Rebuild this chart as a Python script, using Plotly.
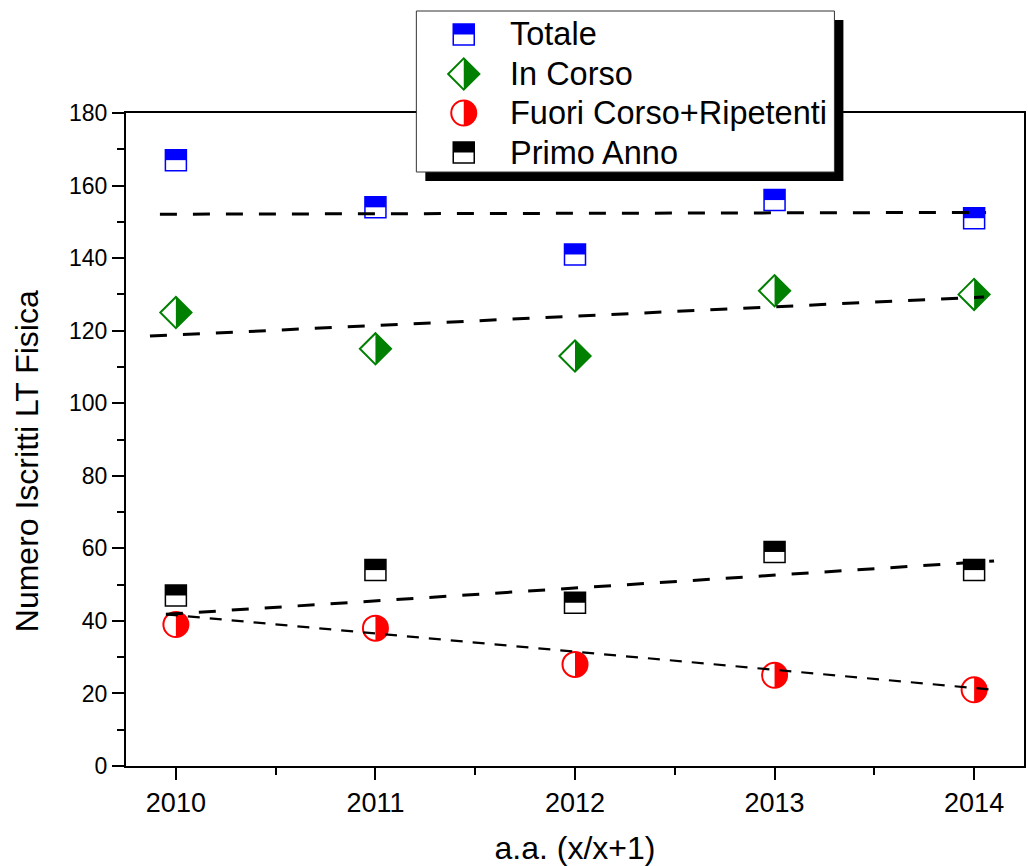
import plotly.graph_objects as go

# ---------------- data ----------------
years = [2010, 2011, 2012, 2013, 2014]
totale = [167, 154, 141, 156, 151]
in_corso = [125, 115, 113, 131, 130]
fuori_corso = [39, 38, 28, 25, 21]
primo_anno = [47, 54, 45, 59, 54]

# linear-fit lines (end points)
fit_totale_x = [2009.92, 2014.06]
fit_totale_y = [152.1, 152.6]
fit_incorso_x = [2009.87, 2014.05]
fit_incorso_y = [118.5, 129.3]
fit_primo_x = [2009.95, 2014.10]
fit_primo_y = [41.8, 56.5]
fit_fuori_x = [2009.95, 2014.12]
fit_fuori_y = [41.8, 20.9]

series_names = ["Totale", "In Corso", "Fuori Corso+Ripetenti", "Primo Anno"]
x_ticks = [2010, 2011, 2012, 2013, 2014]
y_ticks = [0, 20, 40, 60, 80, 100, 120, 140, 160, 180]
x_title = "a.a. (x/x+1)"
y_title = "Numero Iscritti LT Fisica"

# ---------------- styling ----------------
W, H = 1028, 866
ML, MR, MT, MB = 126, 2, 113, 100
PW, PH = W - ML - MR, H - MT - MB
FONT = "Liberation Sans, Arial, sans-serif"
NARROW = "Liberation Sans Narrow, Arial Narrow, " + FONT
BLUE, GREEN, RED, BLACK = "#0000FF", "#008000", "#FF0000", "#000000"

SQ = 10.5      # half side of square markers (px)
DI = 15.6      # half diagonal of diamond markers (px)
CR = 12.5      # circle radius (px)
K = 0.5523


def half_circle_path(r):
    return (f"M0,{-r} C{K*r},{-r} {r},{-K*r} {r},0 "
            f"C{r},{K*r} {K*r},{r} 0,{r} Z")


def half_diamond_path(d):
    return f"M0,{-d} L{d},0 L0,{d} Z"


fig = go.Figure()

# outline markers (transparent fill, background shows white half)
fig.add_trace(go.Scatter(x=years, y=totale, mode="markers", name=series_names[0],
                         marker=dict(symbol="square", size=2 * SQ, color="rgba(0,0,0,0)",
                                     line=dict(color=BLUE, width=1.5)), showlegend=False))
fig.add_trace(go.Scatter(x=years, y=in_corso, mode="markers", name=series_names[1],
                         marker=dict(symbol="diamond", size=2 * DI / 1.3, color="rgba(0,0,0,0)",
                                     line=dict(color=GREEN, width=2)), showlegend=False))
fig.add_trace(go.Scatter(x=years, y=fuori_corso, mode="markers", name=series_names[2],
                         marker=dict(symbol="circle", size=2 * CR, color="rgba(0,0,0,0)",
                                     line=dict(color=RED, width=2)), showlegend=False))
fig.add_trace(go.Scatter(x=years, y=primo_anno, mode="markers", name=series_names[3],
                         marker=dict(symbol="square", size=2 * SQ, color="rgba(0,0,0,0)",
                                     line=dict(color=BLACK, width=1.5)), showlegend=False))

# fit lines on top
for fx, fy, w, d in [(fit_totale_x, fit_totale_y, 3, "17px,16px"),
                     (fit_incorso_x, fit_incorso_y, 3, "17px,16px"),
                     (fit_primo_x, fit_primo_y, 3, "17px,16px"),
                     (fit_fuori_x, fit_fuori_y, 2.2, "12px,10px")]:
    fig.add_trace(go.Scatter(x=fx, y=fy, mode="lines", showlegend=False,
                             line=dict(color=BLACK, width=w, dash=d), hoverinfo="skip"))

shapes = []

# half fills of data markers, anchored on the data values
for xv, yv in zip(years, totale):
    shapes.append(dict(type="rect", xref="x", yref="y", xsizemode="pixel", ysizemode="pixel",
                       xanchor=xv, yanchor=yv, x0=-SQ, x1=SQ, y0=0, y1=SQ,
                       fillcolor=BLUE, line=dict(width=0), layer="below"))
for xv, yv in zip(years, in_corso):
    shapes.append(dict(type="path", xref="x", yref="y", xsizemode="pixel", ysizemode="pixel",
                       xanchor=xv, yanchor=yv, path=half_diamond_path(DI),
                       fillcolor=GREEN, line=dict(width=0), layer="below"))
for xv, yv in zip(years, fuori_corso):
    shapes.append(dict(type="path", xref="x", yref="y", xsizemode="pixel", ysizemode="pixel",
                       xanchor=xv, yanchor=yv, path=half_circle_path(CR),
                       fillcolor=RED, line=dict(width=0), layer="below"))
for xv, yv in zip(years, primo_anno):
    shapes.append(dict(type="rect", xref="x", yref="y", xsizemode="pixel", ysizemode="pixel",
                       xanchor=xv, yanchor=yv, x0=-SQ, x1=SQ, y0=0, y1=SQ,
                       fillcolor=BLACK, line=dict(width=0), layer="below"))


# ---------------- hand-made legend ----------------
def px(xp):
    return (xp - ML) / PW


def py(yp):
    return (MT + PH - yp) / PH


box_l, box_r, box_t, box_b = 417, 836, 11, 172
shadow = 9
shapes.append(dict(type="rect", xref="paper", yref="paper",
                   x0=px(box_l + shadow), x1=px(box_r + shadow),
                   y0=py(box_b + shadow), y1=py(box_t + shadow),
                   fillcolor=BLACK, line=dict(width=0), layer="above"))
shapes.append(dict(type="rect", xref="paper", yref="paper",
                   x0=px(box_l), x1=px(box_r), y0=py(box_b), y1=py(box_t),
                   fillcolor="white", line=dict(color="#333333", width=1), layer="above"))

sym_x = 464.5
row_y = [34.5, 74, 113, 152.5]
text_x = 509
annotations = []
for i, name in enumerate(series_names):
    ax, ay = px(sym_x), py(row_y[i])
    base = dict(xref="paper", yref="paper", xsizemode="pixel", ysizemode="pixel",
                xanchor=ax, yanchor=ay, layer="above")
    if i in (0, 3):
        col = BLUE if i == 0 else BLACK
        shapes.append(dict(type="rect", x0=-SQ, x1=SQ, y0=-SQ, y1=SQ, fillcolor="white",
                           line=dict(color=col, width=1.5), **base))
        shapes.append(dict(type="rect", x0=-SQ, x1=SQ, y0=0, y1=SQ, fillcolor=col,
                           line=dict(width=0), **base))
    elif i == 1:
        shapes.append(dict(type="path", path=f"M{DI},0 L0,{DI} L{-DI},0 L0,{-DI} Z",
                           fillcolor="white", line=dict(color=GREEN, width=2), **base))
        shapes.append(dict(type="path", path=half_diamond_path(DI), fillcolor=GREEN,
                           line=dict(width=0), **base))
    else:
        shapes.append(dict(type="circle", x0=-CR, x1=CR, y0=-CR, y1=CR, fillcolor="white",
                           line=dict(color=RED, width=2), **base))
        shapes.append(dict(type="path", path=half_circle_path(CR), fillcolor=RED,
                           line=dict(width=0), **base))
    annotations.append(dict(xref="paper", yref="paper", x=px(text_x), y=py(row_y[i]),
                            xanchor="left", yanchor="middle", showarrow=False, text=name,
                            font=dict(family=FONT, size=32.5, color=BLACK)))

# y-axis title as a rotated annotation (placed slightly below the plot centre, as in the original)
annotations.append(dict(xref="paper", yref="paper", x=px(27), y=py(461), xanchor="center",
                        yanchor="middle", showarrow=False, textangle=-90, text=y_title,
                        font=dict(family=NARROW, size=32, color=BLACK)))

axis_common = dict(showline=True, linecolor=BLACK, linewidth=2, mirror=True,
                   ticks="outside", ticklen=12, tickwidth=2, tickcolor=BLACK,
                   showgrid=False, zeroline=False)

fig.update_layout(
    width=W, height=H,
    margin=dict(l=ML, r=MR, t=MT, b=MB),
    paper_bgcolor="white", plot_bgcolor="white",
    showlegend=False,
    shapes=shapes, annotations=annotations,
    xaxis=dict(range=[2009.75, 2014.25], tickvals=x_ticks, ticktext=[str(v) for v in x_ticks],
               tickfont=dict(family=NARROW, size=27, color=BLACK),
               minor=dict(ticks="outside", dtick=0.5, tick0=2009.5, ticklen=7, tickwidth=2,
                          tickcolor=BLACK),
               title=dict(text=x_title, standoff=22,
                          font=dict(family=NARROW, size=32, color=BLACK)),
               **axis_common),
    yaxis=dict(range=[0, 180], tickvals=y_ticks,
               tickfont=dict(family=FONT, size=23, color=BLACK),
               minor=dict(ticks="outside", dtick=10, ticklen=7, tickwidth=2, tickcolor=BLACK),
               **axis_common),
)

# remove the browser's default 8px body margin so the figure sits at the page origin
fig.write_html("out.html", config={"displayModeBar": False},
               post_script="document.body.style.margin='0';document.body.style.overflow='hidden';")
